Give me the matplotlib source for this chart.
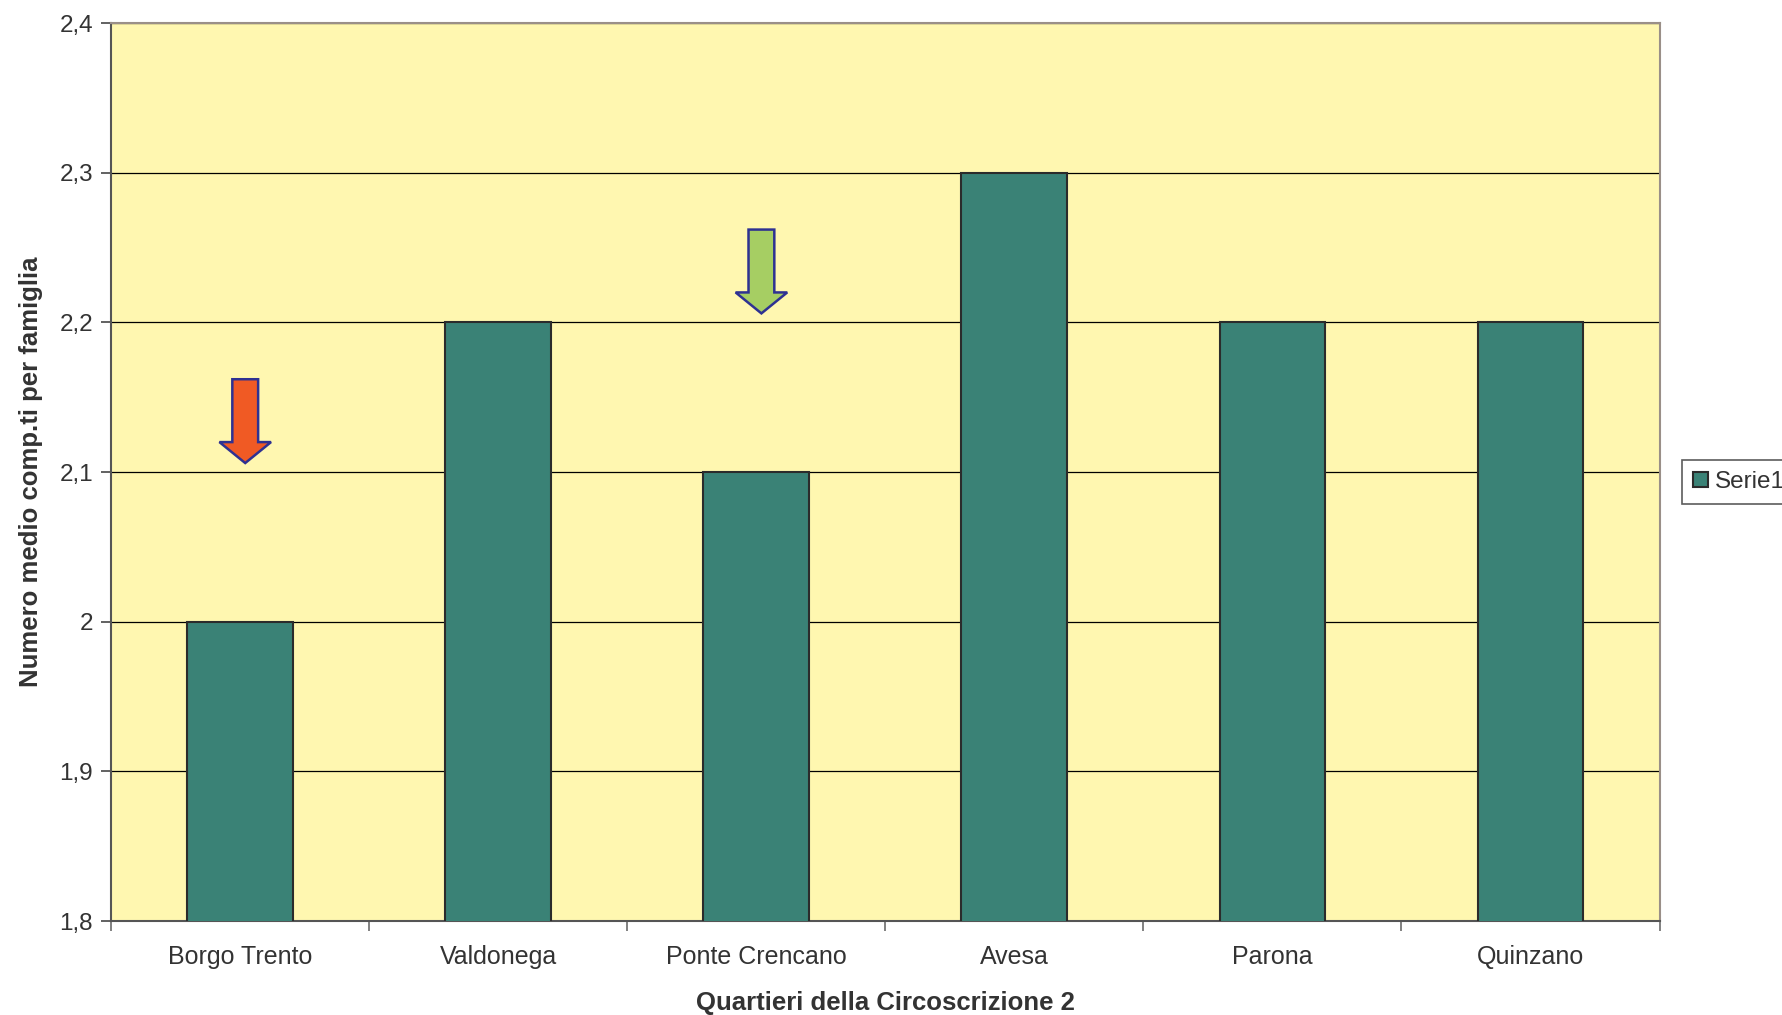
import numpy as np
import matplotlib
matplotlib.use("Agg")
import matplotlib.pyplot as plt
from matplotlib.patches import Polygon
from matplotlib.ticker import FuncFormatter, FixedLocator

# Data
quartieri = ["Borgo Trento", "Valdonega", "Ponte Crencano", "Avesa", "Parona", "Quinzano"]
componenti = [2.0, 2.2, 2.1, 2.3, 2.2, 2.2]
y_ticks = [1.8, 1.9, 2.0, 2.1, 2.2, 2.3, 2.4]

plt.rcParams['font.family'] = ['Liberation Sans', 'DejaVu Sans']

fig = plt.figure(figsize=(17.82, 10.15), dpi=100)
ax = fig.add_axes([0.0623, 0.0926, 0.869, 0.8847])
ax.set_facecolor("#FFF7B0")

x = np.arange(len(quartieri))
ax.bar(x, componenti, width=0.41, bottom=0, color="#3A8276", edgecolor="#2b2b2b",
       linewidth=1.5, label="Serie1", zorder=3)

ax.set_xlim(-0.5, len(quartieri) - 0.5)
ax.set_ylim(1.8, 2.4)
ax.set_yticks(y_ticks)
ax.yaxis.set_major_formatter(FuncFormatter(lambda v, p: ("%g" % round(v, 1)).replace(".", ",")))
ax.grid(axis="y", color="black", linewidth=0.9, zorder=1)

ax.set_xticks(x)
ax.set_xticklabels(quartieri)
ax.xaxis.set_minor_locator(FixedLocator(np.arange(-0.5, len(quartieri))))
ax.tick_params(axis="x", which="major", length=0, pad=17, labelsize=18, colors="#333333")
ax.tick_params(axis="x", which="minor", length=7, width=1.3, color="#777777")
ax.tick_params(axis="y", length=7, width=1.3, color="#555555", labelsize=17.5,
               labelcolor="#333333", pad=6)

for s in ["left", "bottom"]:
    ax.spines[s].set_color("#555555")
    ax.spines[s].set_linewidth(1.5)
for s in ["top", "right"]:
    ax.spines[s].set_color("#9a8f88")
    ax.spines[s].set_linewidth(1.5)

ax.set_ylabel("Numero medio comp.ti per famiglia", fontsize=18.5, fontweight="bold",
              color="#333333", labelpad=12)
ax.set_xlabel("Quartieri della Circoscrizione 2", fontsize=18.5, fontweight="bold",
              color="#333333", labelpad=16)


def down_arrow(xc, top, head_start, tip, fc):
    sw, hw = 0.05, 0.1
    pts = [(xc - sw, top), (xc + sw, top), (xc + sw, head_start), (xc + hw, head_start),
           (xc, tip), (xc - hw, head_start), (xc - sw, head_start)]
    ax.add_patch(Polygon(pts, closed=True, facecolor=fc, edgecolor="#2E3192",
                         linewidth=1.8, zorder=4))


down_arrow(0.02, 2.162, 2.12, 2.106, "#F05A24")
down_arrow(2.02, 2.262, 2.22, 2.206, "#A6CE63")

leg = fig.legend(loc="center left", bbox_to_anchor=(0.944, 0.525), fontsize=17.5,
                 frameon=True, fancybox=False, edgecolor="#333333", handlelength=0.6,
                 handleheight=0.6, handletextpad=0.3, borderpad=0.45, borderaxespad=0)
leg.get_frame().set_linewidth(1.2)
for t in leg.get_texts():
    t.set_color("#333333")

fig.savefig("out.png", dpi=100)
